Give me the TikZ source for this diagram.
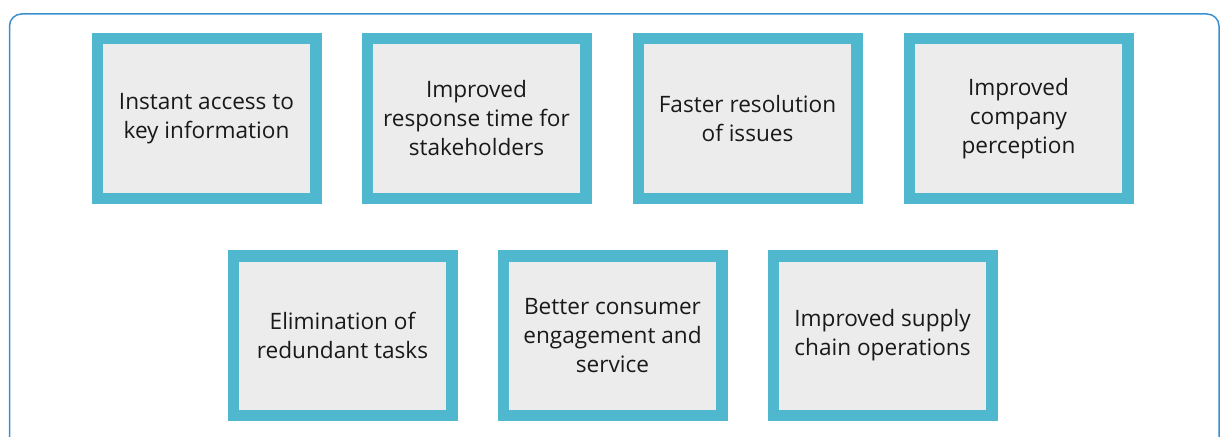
\documentclass[tikz,border=0pt]{standalone}
\usepackage{fontspec}
\setmainfont{Open Sans}
\usepackage{tikz}

\definecolor{moldura}{RGB}{58,143,204}
\definecolor{borda}{RGB}{79,184,207}
\definecolor{fundo}{RGB}{236,236,236}

\begin{document}
\begin{tikzpicture}[x=1pt, y=-1pt,
  caixa/.style={rectangle, draw=borda, line width=11.5pt, fill=fundo,
    minimum width=218.5pt, minimum height=159.5pt, align=center,
    text=black!90, font=\fontsize{22.6}{29}\selectfont}]
  \useasboundingbox (0, 0) rectangle (1225, 436);

  % Moldura
  \draw[moldura, line width=1.5pt, rounded corners=12pt] (9.5, 14) rectangle (1219, 470);

  % Primeira linha
  \node[caixa] (c1) at (206.5, 118.5) {Instant access to\\key information};
  \node[caixa] (c2) at (476.5, 118.5) {Improved\\response time for\\stakeholders};
  \node[caixa] (c3) at (747.5, 118.5) {Faster resolution\\of issues};
  \node[caixa] (c4) at (1018.5, 118.5) {Improved\\company\\perception};

  % Segunda linha
  \node[caixa] (c5) at (342.5, 335.5) {Elimination of\\redundant tasks};
  \node[caixa] (c6) at (612.5, 335.5) {Better consumer\\engagement and\\service};
  \node[caixa] (c7) at (882.5, 335.5) {Improved supply\\chain operations};
\end{tikzpicture}
\end{document}
